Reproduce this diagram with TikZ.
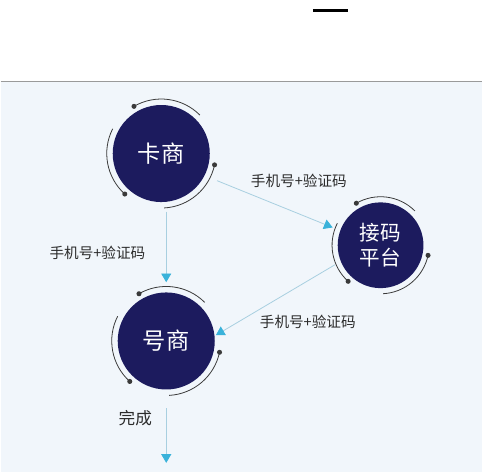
\documentclass[tikz,border=0pt]{standalone}
\usepackage{fontspec}
\setmainfont{Noto Sans CJK SC}
\usetikzlibrary{arrows.meta,positioning,calc}
\definecolor{navy}{HTML}{1C1B5E}
\definecolor{panel}{HTML}{F1F6FB}
\definecolor{rulegray}{HTML}{9A9A9A}
\definecolor{flowline}{HTML}{A8CFE0}
\definecolor{tipblue}{HTML}{3AB2DA}
\definecolor{labelgray}{HTML}{2B2B2B}
\definecolor{ringgray}{HTML}{3A3A3A}

\begin{document}
\begin{tikzpicture}[x=0.75pt,y=-0.75pt,
    hub/.style={circle,fill=navy,text=white,align=center,inner sep=0pt,
        font=\fontsize{17.5}{19}\selectfont},
    flow/.style={draw=flowline,line width=0.6pt,
        -{Triangle[width=7.5pt,length=6.5pt,color=tipblue]}},
    tag/.style={text=labelgray,font=\fontsize{11}{13}\selectfont},
    ringarc/.style={draw=ringgray,line width=0.6pt},
    ringdot/.style={fill=ringgray}]

    % Page and panel
    \fill[white] (0,0) rectangle (483,473);
    \fill[panel] (0,82) rectangle (483,473);
    \draw[rulegray,line width=1.1pt] (0,82) -- (483,82);
    \draw[black,line width=1.8pt] (313,10.5) -- (348,10.5);

    % Stations
    \node[hub,minimum size=73pt] (kashang) at (161,154) {卡商};
    \node[hub,minimum size=64.5pt,font=\fontsize{15.5}{19}\selectfont] (jiema) at (381,246) {接码\\平台};
    \node[hub,minimum size=73pt] (haoshang) at (166,342) {号商};

    % Rings round the stations
    \foreach \n/\r in {kashang/41pt,haoshang/41pt,jiema/36.5pt} {
        \foreach \a in {120,-12,228} {
            \draw[ringarc] ([shift={(\a:\r)}]\n.center) arc[start angle=\a,delta angle=-75,radius=\r];
            \fill[ringdot] ([shift={(\a:\r)}]\n.center) circle (1.9pt);
        }
    }

    % Flows
    \draw[flow,shorten <=7pt,shorten >=7.5pt] (kashang.south -| haoshang.north) -- (haoshang.north);
    \node[tag] (tagleft) at (97,254) {手机号+验证码};

    \draw[flow,shorten <=10pt,shorten >=6pt] (kashang.-27) -- (jiema.160);
    \node[tag] (tagtop) at (299,181) {手机号+验证码};

    \draw[flow,shorten <=5pt,shorten >=1pt] (jiema.202) -- (haoshang.6);
    \node[tag] (tagbottom) at (308,323) {手机号+验证码};

    % Finish
    \coordinate[below=55pt of haoshang.south] (finish);
    \draw[flow,shorten <=14pt] (haoshang.south) -- (finish);
    \node[tag,font=\fontsize{12.5}{14}\selectfont] (done) at (135,419) {完成};

\end{tikzpicture}
\end{document}
